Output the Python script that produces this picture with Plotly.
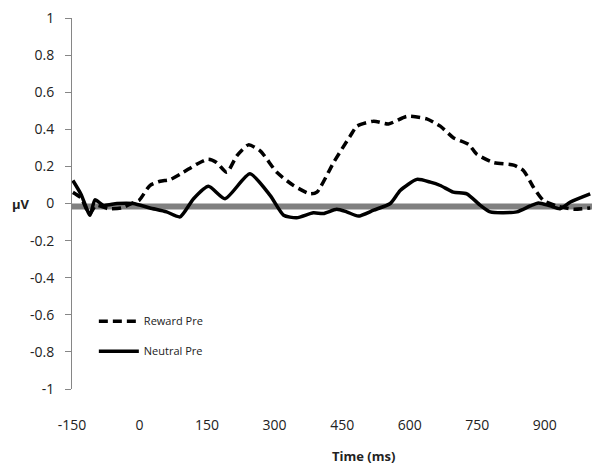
import plotly.graph_objects as go

# Reward Pre (dashed)
reward_ms = [-148, -130, -111, -97, -69, -40, -14, 0, 23, 46, 68, 97, 127, 153, 171, 194, 216, 242, 268,
             305, 342, 379, 394, 431, 468, 483, 520, 553, 594, 638, 668, 697, 731, 749, 786, 831, 853,
             875, 897, 927, 964, 1001]
reward_uv = [0.06, 0.03, -0.058, -0.01, -0.028, -0.024, 0.004, 0.02, 0.097, 0.12, 0.129, 0.168, 0.212, 0.239,
             0.221, 0.168, 0.257, 0.316, 0.284, 0.168, 0.097, 0.052, 0.061, 0.221, 0.364, 0.417, 0.444,
             0.429, 0.47, 0.456, 0.417, 0.355, 0.319, 0.266, 0.221, 0.207, 0.177, 0.088, 0.017, -0.013,
             -0.031, -0.024]

# Neutral Pre (solid)
neutral_ms = [-148, -130, -110, -99, -80, -50, -14, 23, 60, 90, 120, 153, 190, 245, 290, 320, 349, 386,
              408, 438, 460, 486, 520, 557, 579, 616, 646, 668, 697, 727, 757, 779, 838, 868, 886, 912,
              934, 957, 1001]
neutral_uv = [0.124, 0.05, -0.063, 0.02, -0.01, 0.0, 0.0, -0.024, -0.045, -0.072, 0.026, 0.093, 0.026, 0.16,
              0.044, -0.063, -0.077, -0.05, -0.054, -0.031, -0.045, -0.068, -0.036, 0.0, 0.07, 0.13,
              0.115, 0.097, 0.061, 0.052, -0.01, -0.045, -0.045, -0.013, 0.003, -0.013, -0.028, 0.008,
              0.052]

x_tick_vals = [-150, 0, 150, 300, 450, 600, 750, 900]
x_tick_text = ["-150", "0", "150", "300", "450", "600", "750", "900"]
y_tick_vals = [1, 0.8, 0.6, 0.4, 0.2, 0, -0.2, -0.4, -0.6, -0.8, -1]
y_tick_text = ["1", "0.8", "0.6", "0.4", "0.2", "0", "-0.2", "-0.4", "-0.6", "-0.8", "-1"]

FONT = "Open Sans"
TXT = "#222222"

fig = go.Figure()
fig.add_trace(go.Scatter(x=reward_ms, y=reward_uv, mode="lines", name="Reward Pre",
                         legendgroup="a",
                         line=dict(color="black", width=3.5, dash="9px,5px", shape="spline", smoothing=0.6)))
fig.add_trace(go.Scatter(x=neutral_ms, y=neutral_uv, mode="lines", name="Neutral Pre",
                         legendgroup="b",
                         line=dict(color="black", width=3.5, shape="spline", smoothing=0.6)))

fig.add_shape(type="line", xref="paper", x0=0, x1=1, yref="y", y0=-0.016, y1=-0.016,
              line=dict(color="#808080", width=6), layer="below")

fig.update_layout(
    width=595, height=464,
    margin=dict(l=64, r=11, t=10, b=83, autoexpand=False),
    plot_bgcolor="white", paper_bgcolor="white",
    font=dict(family=FONT, color=TXT),
    showlegend=True,
    legend=dict(x=0.042, y=0.222, xanchor="left", yanchor="top",
                bgcolor="rgba(0,0,0,0)", font=dict(size=11, family=FONT, color=TXT),
                tracegroupgap=11, itemwidth=40),
    xaxis=dict(range=[-150, 1005], tickmode="array", tickvals=x_tick_vals, ticktext=x_tick_text,
               showgrid=False, zeroline=False, showline=False, ticks="", automargin=False,
               tickfont=dict(size=14, family=FONT, color=TXT), ticklabelstandoff=26),
    yaxis=dict(range=[-1, 1], tickmode="array", tickvals=y_tick_vals, ticktext=y_tick_text,
               showgrid=False, zeroline=False, showline=True, linecolor="#868686", linewidth=1,
               ticks="outside", ticklen=6, tickcolor="#868686", automargin=False,
               ticklabeloverflow="allow",
               tickfont=dict(size=14, family=FONT, color=TXT), ticklabelstandoff=8),
    annotations=[
        dict(text="<b>µV</b>", xref="paper", yref="y", x=-0.098, y=0, showarrow=False,
             xanchor="center", yanchor="middle", font=dict(size=13, family=FONT, color=TXT)),
        dict(text="<b>Time (ms)</b>", xref="paper", yref="paper", x=0.56, y=-0.18, showarrow=False,
             xanchor="center", yanchor="middle", font=dict(size=13, family=FONT, color=TXT)),
    ],
)

fig.write_html("out.html")
